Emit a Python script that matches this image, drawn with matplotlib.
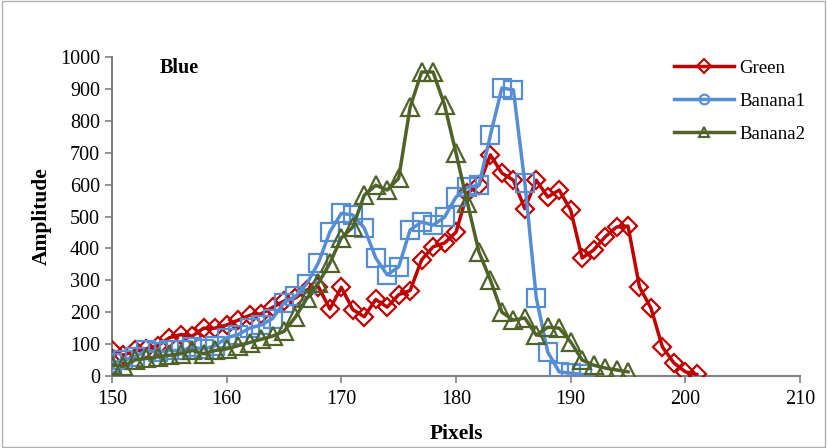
import numpy as np
import matplotlib.pyplot as plt
from matplotlib.lines import Line2D

plt.rcParams['font.family'] = ['Liberation Serif', 'DejaVu Serif']

# Green series
green_x = list(range(150, 202))
green_y = [80, 65, 80, 85, 95, 120, 130, 125, 150, 150,
           160, 175, 190, 195, 215, 235, 245, 270, 280, 210,
           278, 208, 186, 240, 216, 255, 268, 364, 405, 417,
           451, 574, 599, 693, 636, 614, 525, 614, 561, 583,
           520, 370, 395, 436, 467, 470, 279, 213, 91, 41,
           13, 5]

# Banana1 series
banana1_x = list(range(150, 192))
banana1_y = [40, 50, 60, 80, 75, 80, 80, 90, 85, 95,
             120, 130, 150, 160, 180, 230, 250, 290, 355, 452,
             510, 505, 464, 370, 317, 342, 458, 483, 473, 498,
             561, 592, 598, 755, 903, 897, 606, 245, 75, 13,
             9, 5]

# Banana2 series
banana2_x = list(range(150, 196))
banana2_y = [35, 30, 50, 55, 60, 65, 70, 80, 70, 80,
             85, 95, 105, 115, 125, 140, 185, 244, 291, 354,
             433, 467, 567, 598, 583, 620, 843, 953, 953, 850,
             699, 542, 389, 301, 200, 175, 182, 128, 153, 150,
             107, 50, 34, 25, 19, 13]

red = '#C00000'
blue = '#558ED5'
olive = '#4F6228'

fig = plt.figure(figsize=(8.27, 4.48), dpi=100)
ax = fig.add_axes([0.1354, 0.1607, 0.832, 0.712])

ax.plot(green_x, green_y, color=red, lw=2.5, marker='D', ms=9,
        mfc='none', mec=red, mew=1.6, zorder=3)
ax.plot(banana1_x, banana1_y, color=blue, lw=2.5, marker='s', ms=13,
        mfc='none', mec=blue, mew=1.6, zorder=4)
ax.plot(banana2_x, banana2_y, color=olive, lw=2.5, marker='^', ms=13,
        mfc='none', mec=olive, mew=1.6, zorder=5)

ax.set_xlim(150, 210)
ax.set_ylim(0, 1000)
ax.set_xticks(range(150, 211, 10))
ax.set_yticks(range(0, 1001, 100))

for side in ['top', 'right']:
    ax.spines[side].set_visible(False)
for side in ['left', 'bottom']:
    ax.spines[side].set_color('#808080')
    ax.spines[side].set_linewidth(1.5)
ax.tick_params(direction='out', color='#808080', width=1.2, length=5,
               labelsize=14.5)
ax.tick_params(axis='x', pad=5)

ax.set_xlabel('Pixels', fontsize=15.5, fontweight='bold', labelpad=11)
ax.set_ylabel('Amplitude', fontsize=15.5, fontweight='bold', labelpad=6)
ax.text(0.07, 0.967, 'Blue', transform=ax.transAxes, fontsize=14.5,
        fontweight='bold', va='center')

handles = [
    Line2D([], [], color=red, lw=2.5, marker='D', ms=7, mfc='none', mec=red, mew=1.5),
    Line2D([], [], color=blue, lw=2.5, marker='o', ms=7, mfc='none', mec=blue, mew=1.5),
    Line2D([], [], color=olive, lw=2.5, marker='^', ms=7, mfc='none', mec=olive, mew=1.5),
]
fig.legend(handles, ['Green', 'Banana1', 'Banana2'], loc='upper left',
           bbox_to_anchor=(0.795, 0.905), frameon=False, fontsize=13.5,
           handlelength=3.2, labelspacing=0.85, handletextpad=0.25)

fig.patches.append(plt.Rectangle((0.002, 0.002), 0.996, 0.996, transform=fig.transFigure,
                                 fill=False, edgecolor='#B0B0B0', lw=1))

fig.savefig('out.png', dpi=100)
